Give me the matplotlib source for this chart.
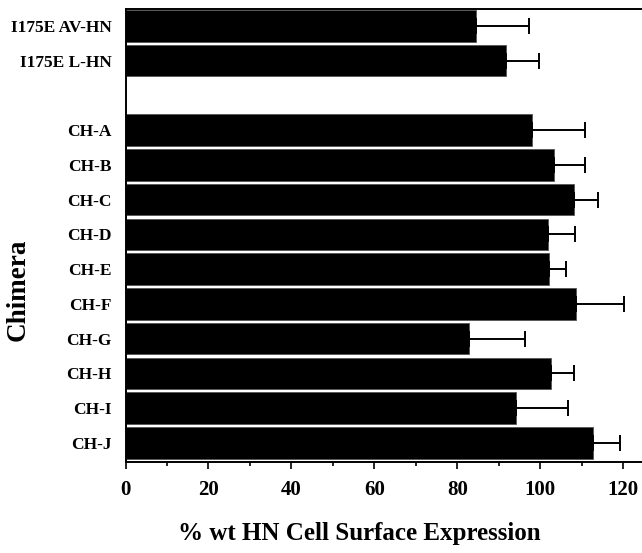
import matplotlib
matplotlib.use('Agg')

import matplotlib.pyplot as plt
import numpy as np

# data (top to bottom); None marks the empty slot
LABELS = ["I175E AV-HN", "I175E L-HN", None,
          "CH-A", "CH-B", "CH-C", "CH-D", "CH-E",
          "CH-F", "CH-G", "CH-H", "CH-I", "CH-J"]
VALUES = [84.5, 91.7, None,
          98.1, 103.4, 108.2, 101.9, 102.2,
          108.6, 82.8, 102.5, 94.1, 112.7]
ERRORS = [12.8, 8.0, None,
          12.7, 7.4, 5.6, 6.5, 3.9,
          11.5, 13.4, 5.7, 12.6, 6.4]
XTICKS = [0, 20, 40, 60, 80, 100, 120]

W, H = 642, 553
DPI = 100

plt.rcParams['font.family'] = ['Liberation Serif', 'DejaVu Serif']
plt.rcParams['font.weight'] = 'bold'

fig = plt.figure(figsize=(W / DPI, H / DPI), dpi=DPI)
left, right, top, bottom = 125.5, 642, 8.5, 462
ax = fig.add_axes([left / W, 1 - bottom / H, (right - left) / W, (bottom - top) / H])

pos = [i for i, v in enumerate(VALUES) if v is not None]
vals = [VALUES[i] for i in pos]
errs = [ERRORS[i] for i in pos]
labs = [LABELS[i] for i in pos]

ax.barh(pos, vals, height=0.9, color="black", edgecolor="#555555", linewidth=0.6)
# only the upper half of each error bar is shown
ax.errorbar(vals, pos, xerr=[np.zeros(len(errs)), errs], fmt="none",
            ecolor="black", elinewidth=1.4, capsize=5.5, capthick=1.4)

ax.set_ylim(len(LABELS) - 0.45, -0.5)
ax.set_xlim(0, 124.5)

ax.set_yticks(pos)
ax.set_yticklabels(labs, fontsize=12.5, fontweight="bold")
ax.tick_params(axis="y", length=0, pad=10)

ax.set_xticks(XTICKS)
ax.set_xticklabels([str(t) for t in XTICKS], fontsize=15, fontweight="bold")
ax.set_xticks(np.arange(10, 125, 20), minor=True)
ax.tick_params(axis="x", which="major", length=5, width=1.2, direction="out", pad=8)
ax.tick_params(axis="x", which="minor", length=3, width=1.2, direction="out")

for s in ["left", "bottom", "top"]:
    ax.spines[s].set_linewidth(1.4)
ax.spines["right"].set_visible(False)

ax.set_xlabel("% wt HN Cell Surface Expression", fontsize=18, fontweight="bold")
ax.xaxis.set_label_coords((359 - left) / (right - left), -(522 - bottom) / (bottom - top))
ax.set_ylabel("Chimera", fontsize=19.5, fontweight="bold")
ax.yaxis.set_label_coords((31 - left) / (right - left), (bottom - 290) / (bottom - top))

plt.savefig("out.png", dpi=DPI)
